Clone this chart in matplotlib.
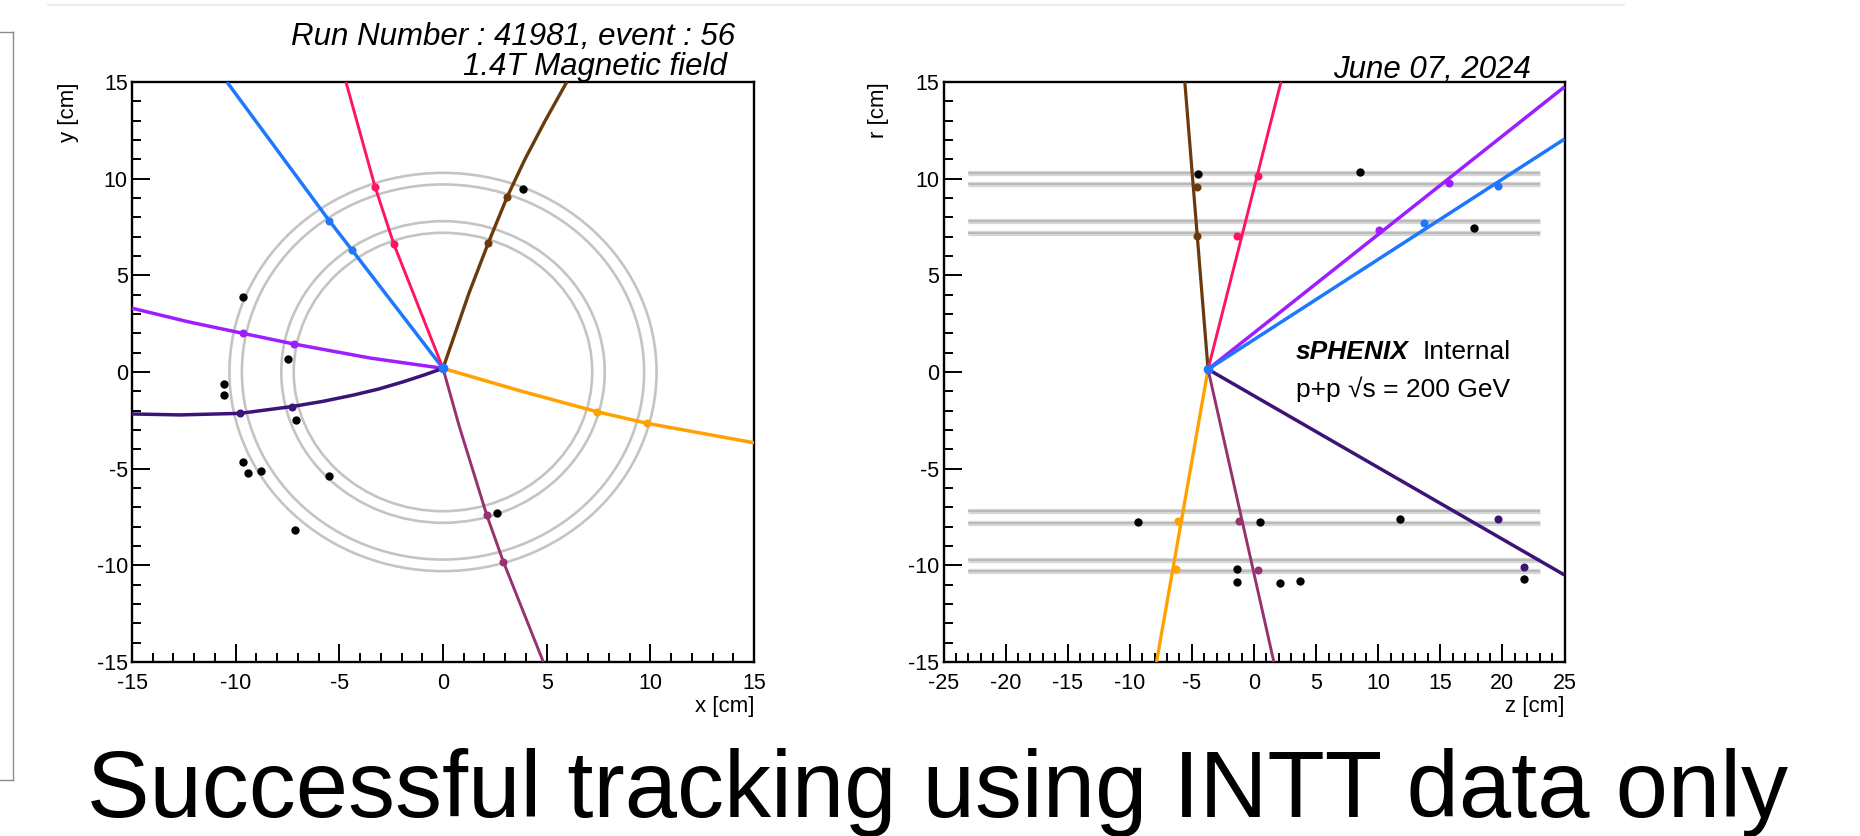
import matplotlib
matplotlib.use("Agg")
import matplotlib.pyplot as plt
from matplotlib.patches import Circle
from matplotlib.lines import Line2D
from matplotlib.ticker import MultipleLocator

plt.rcParams['font.family'] = ['Liberation Sans', 'DejaVu Sans']
plt.rcParams['axes.unicode_minus'] = False

# ---------------- data ----------------
layer_radii = [7.2, 7.8, 9.7, 10.3]
band_z_extent = [-23.0, 23.0]

# x-y view: track paths
xy_blue_x = [0.0, -4.39, -5.49, -10.42]
xy_blue_y = [0.19, 6.31, 7.83, 15.0]
xy_pink_x = [0.0, -2.37, -3.28, -4.68]
xy_pink_y = [0.19, 6.61, 9.59, 15.0]
xy_brown_x = [0.0, 1.25, 2.19, 3.10, 3.95, 4.93, 5.97]
xy_brown_y = [0.19, 4.07, 6.69, 9.07, 11.0, 13.0, 15.0]
xy_violet_x = [0.0, -3.5, -7.2, -9.65, -12.3, -15.0]
xy_violet_y = [0.19, 0.72, 1.45, 2.0, 2.6, 3.3]
xy_indigo_x = [0.0, -0.9, -1.9, -3.1, -4.35, -5.8, -7.3, -9.8, -12.7, -15.0]
xy_indigo_y = [0.19, -0.15, -0.5, -0.88, -1.2, -1.52, -1.79, -2.14, -2.22, -2.17]
xy_orange_x = [0.0, 3.71, 7.41, 9.83, 15.0]
xy_orange_y = [0.19, -0.97, -2.05, -2.65, -3.66]
xy_maroon_x = [0.0, 0.79, 2.11, 2.91, 4.84]
xy_maroon_y = [0.19, -2.83, -7.40, -9.81, -15.0]

# x-y view: hits assigned to tracks
hit_xy_blue_x = [-4.39, -5.49]
hit_xy_blue_y = [6.31, 7.83]
hit_xy_pink_x = [-2.37, -3.28]
hit_xy_pink_y = [6.61, 9.59]
hit_xy_brown_x = [2.19, 3.10]
hit_xy_brown_y = [6.69, 9.07]
hit_xy_violet_x = [-7.2, -9.65]
hit_xy_violet_y = [1.45, 2.0]
hit_xy_indigo_x = [-7.3, -9.8]
hit_xy_indigo_y = [-1.79, -2.14]
hit_xy_orange_x = [7.41, 9.83]
hit_xy_orange_y = [-2.05, -2.65]
hit_xy_maroon_x = [2.11, 2.91]
hit_xy_maroon_y = [-7.40, -9.81]

# x-y view: unassigned hits
blk_xy_x = [-9.65, -7.5, -10.55, -10.55, -7.1, -9.65, -9.4, -8.8, -5.5, -7.15, 2.59, 3.84]
blk_xy_y = [3.9, 0.67, -0.6, -1.2, -2.5, -4.65, -5.2, -5.1, -5.4, -8.17, -7.31, 9.45]

vertex_xy = [0.0, 0.19]

# z-r view: tracks
rz_blue_z = [-3.70, 25.0]
rz_blue_r = [0.14, 12.05]
rz_pink_z = [-3.70, 2.17]
rz_pink_r = [0.14, 15.0]
rz_brown_z = [-3.70, -5.57]
rz_brown_r = [0.14, 15.0]
rz_violet_z = [-3.70, 25.0]
rz_violet_r = [0.14, 14.75]
rz_indigo_z = [-3.70, 25.0]
rz_indigo_r = [0.14, -10.5]
rz_orange_z = [-3.70, -7.85]
rz_orange_r = [0.14, -15.0]
rz_maroon_z = [-3.70, 1.6]
rz_maroon_r = [0.14, -15.0]

# z-r view: hits assigned to tracks
hit_rz_blue_z = [13.7, 19.68]
hit_rz_blue_r = [7.73, 9.62]
hit_rz_pink_z = [-1.36, 0.35]
hit_rz_pink_r = [7.04, 10.16]
hit_rz_brown_z = [-4.58, -4.58]
hit_rz_brown_r = [7.04, 9.55]
hit_rz_violet_z = [10.06, 15.68]
hit_rz_violet_r = [7.35, 9.79]
hit_rz_indigo_z = [19.68, 21.76]
hit_rz_indigo_r = [-7.62, -10.07]
hit_rz_orange_z = [-6.14, -6.24]
hit_rz_orange_r = [-7.69, -10.21]
hit_rz_maroon_z = [-1.21, 0.35]
hit_rz_maroon_r = [-7.69, -10.24]

# z-r view: unassigned hits
blk_rz_z = [-4.48, 8.51, 17.71, -9.31, 0.46, 11.73, -1.36, -1.36, 2.12, 3.68, 21.76]
blk_rz_r = [10.24, 10.36, 7.43, -7.74, -7.74, -7.62, -10.21, -10.85, -10.9, -10.81, -10.73]

vertex_rz = [-3.70, 0.14]

ticks_major = 5
ticks_minor = 1

# ---------------- style ----------------
C_BLUE = '#1e78ff'
C_PINK = '#ff1464'
C_BROWN = '#6b3a0c'
C_VIOLET = '#9f1eff'
C_INDIGO = '#3c1478'
C_ORANGE = '#ffa200'
C_MAROON = '#963270'
C_LAYER = '#c4c4c4'

W, H = 1860, 836
fig = plt.figure(figsize=(W / 100, H / 100), dpi=100)


def px_box(l, t, r, b):
    return [l / W, 1 - b / H, (r - l) / W, (b - t) / H]


ax1 = fig.add_axes(px_box(132, 82, 754, 662))
ax2 = fig.add_axes(px_box(943.5, 82, 1564.5, 662))


def style(ax, xlim, ylim):
    ax.set_xlim(*xlim)
    ax.set_ylim(*ylim)
    ax.xaxis.set_major_locator(MultipleLocator(ticks_major))
    ax.yaxis.set_major_locator(MultipleLocator(ticks_major))
    ax.xaxis.set_minor_locator(MultipleLocator(ticks_minor))
    ax.yaxis.set_minor_locator(MultipleLocator(ticks_minor))
    ax.tick_params(which='both', direction='in', top=False, right=False,
                   labelsize=15.5, width=1.4, colors='black')
    ax.tick_params(which='major', length=13)
    ax.tick_params(which='minor', length=6.5)
    ax.tick_params(axis='y', pad=3)
    ax.tick_params(axis='x', pad=8)
    for s in ax.spines.values():
        s.set_linewidth(1.7)
        s.set_color('black')


style(ax1, (-15, 15), (-15, 15))
style(ax2, (-25, 25), (-15, 15))

# ---- left: x-y view ----
for r in layer_radii:
    ax1.add_patch(Circle((0, 0), r, fill=False, edgecolor=C_LAYER, lw=1.9, zorder=1))

tracks_xy = [
    (xy_blue_x, xy_blue_y, hit_xy_blue_x, hit_xy_blue_y, C_BLUE, 2.5),
    (xy_pink_x, xy_pink_y, hit_xy_pink_x, hit_xy_pink_y, C_PINK, 2.1),
    (xy_brown_x, xy_brown_y, hit_xy_brown_x, hit_xy_brown_y, C_BROWN, 2.4),
    (xy_violet_x, xy_violet_y, hit_xy_violet_x, hit_xy_violet_y, C_VIOLET, 2.5),
    (xy_indigo_x, xy_indigo_y, hit_xy_indigo_x, hit_xy_indigo_y, C_INDIGO, 2.5),
    (xy_orange_x, xy_orange_y, hit_xy_orange_x, hit_xy_orange_y, C_ORANGE, 2.5),
    (xy_maroon_x, xy_maroon_y, hit_xy_maroon_x, hit_xy_maroon_y, C_MAROON, 2.1),
]
for tx, ty, hx, hy, c, lw in tracks_xy:
    ax1.plot(tx, ty, color=c, lw=lw, solid_capstyle='butt', solid_joinstyle='round', zorder=3)
    ax1.plot(hx, hy, 'o', color=c, ms=5.8, mec='none', zorder=4)
ax1.plot(blk_xy_x, blk_xy_y, 'o', color='black', ms=6.0, mec='none', zorder=5)
ax1.plot([vertex_xy[0]], [vertex_xy[1]], 'o', color=C_BLUE, ms=7, mec='none', zorder=6)

# ---- right: z-r view ----
for r in layer_radii:
    for sgn in (1, -1):
        ax2.hlines(sgn * r, band_z_extent[0], band_z_extent[1], color='#d6d6d6', lw=3.8, zorder=1)
        ax2.hlines(sgn * r, band_z_extent[0], band_z_extent[1], color='#b8b8b8', lw=1.3, zorder=1)

tracks_rz = [
    (rz_brown_z, rz_brown_r, hit_rz_brown_z, hit_rz_brown_r, C_BROWN, 2.3),
    (rz_pink_z, rz_pink_r, hit_rz_pink_z, hit_rz_pink_r, C_PINK, 2.1),
    (rz_violet_z, rz_violet_r, hit_rz_violet_z, hit_rz_violet_r, C_VIOLET, 2.5),
    (rz_blue_z, rz_blue_r, hit_rz_blue_z, hit_rz_blue_r, C_BLUE, 2.5),
    (rz_indigo_z, rz_indigo_r, hit_rz_indigo_z, hit_rz_indigo_r, C_INDIGO, 2.5),
    (rz_orange_z, rz_orange_r, hit_rz_orange_z, hit_rz_orange_r, C_ORANGE, 2.4),
    (rz_maroon_z, rz_maroon_r, hit_rz_maroon_z, hit_rz_maroon_r, C_MAROON, 2.1),
]
for tz, tr, hz, hr, c, lw in tracks_rz:
    ax2.plot(tz, tr, color=c, lw=lw, solid_capstyle='butt', zorder=3)
    ax2.plot(hz, hr, 'o', color=c, ms=5.8, mec='none', zorder=4)
ax2.plot(blk_rz_z, blk_rz_r, 'o', color='black', ms=6.0, mec='none', zorder=5)
ax2.plot([vertex_rz[0]], [vertex_rz[1]], 'o', color=C_BLUE, ms=7, mec='none', zorder=6)

# axis titles (ROOT style: right/top justified)
ax1.text(-0.1013, 1.0, 'y [cm]', transform=ax1.transAxes, rotation=90,
         ha='center', va='top', fontsize=16)
ax1.text(1.0, -0.058, 'x [cm]', transform=ax1.transAxes, ha='right', va='top', fontsize=16)
ax2.text(-0.104, 1.0, 'r [cm]', transform=ax2.transAxes, rotation=90,
         ha='center', va='top', fontsize=16)
ax2.text(1.0, -0.058, 'z [cm]', transform=ax2.transAxes, ha='right', va='top', fontsize=16)


def ftext(x, y, s, **kw):
    fig.text(x / W, 1 - y / H, s, **kw)


ftext(735, 45, 'Run Number : 41981, event : 56', ha='right', va='baseline',
      fontsize=22.5, style='italic')
ftext(727, 75, '1.4T Magnetic field', ha='right', va='baseline',
      fontsize=22.5, style='italic')
ftext(1531, 78, 'June 07, 2024', ha='right', va='baseline',
      fontsize=22.5, style='italic')
ftext(1296, 359, 'sPHENIX', ha='left', va='baseline', fontsize=19,
      style='italic', weight='bold')
ftext(1423, 359, 'Internal', ha='left', va='baseline', fontsize=19)
ftext(1296, 397, 'p+p \u221as = 200 GeV', ha='left', va='baseline', fontsize=19)

ftext(937, 817, 'Successful tracking using INTT data only', ha='center',
      va='baseline', fontsize=67.6)

# slide decorations
def fline(x0, y0, x1, y1, **kw):
    fig.add_artist(Line2D([x0 / W, x1 / W], [1 - y0 / H, 1 - y1 / H],
                          transform=fig.transFigure, **kw))


fline(48, 5, 1624, 5, color='#ededed', lw=1.5)
fline(0, 32, 13, 32, color='#8c8c8c', lw=1.0)
fline(13, 32, 13, 780, color='#8c8c8c', lw=1.0)
fline(0, 780, 13, 780, color='#8c8c8c', lw=1.0)

fig.savefig('out.png', dpi=100)
